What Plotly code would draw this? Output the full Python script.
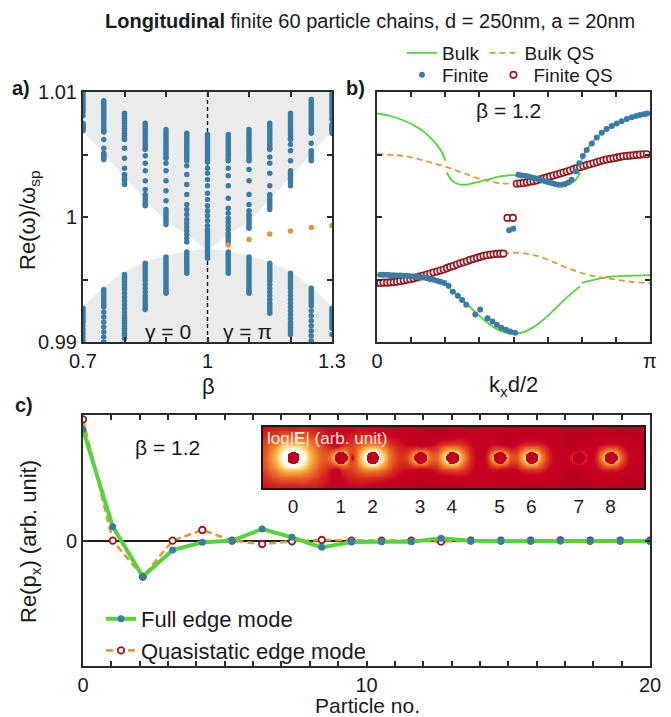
import numpy as np
import plotly.graph_objects as go

W, H = 671, 717
FONT = "Liberation Sans, Arial, Helvetica, sans-serif"
INK = "#1a1a1a"
AXIS = "#2b2b2b"
BLUE = "#3b7ca6"
ORANGE = "#e3973d"
GREEN = "#56d23e"
MAROON = "#8e1d27"
BAND_GREY = "#ebebeb"

# ---------------- a) finite-chain eigenfrequencies vs beta ----------------
# frequencies stored as offsets from omega_sp in units of 1e-4
beta_cols = [0.70, 0.75, 0.80, 0.85, 0.90, 0.95, 1.00, 1.05, 1.10, 1.15, 1.20, 1.25, 1.30]

b070_up = [101, 99, 97, 95, 93, 91, 89, 87, 86, 84, 81, 75, 74, 73, 72, 71, 70, 69]
b070_lo = [-73, -75, -77, -79, -81, -83, -84, -87, -90, -93, -96, -99]
b075_up = [93, 91, 89, 87, 85, 83, 81, 79, 77, 75, 73, 71, 69, 68, 62, 55, 51, 50, 49, 48, 47, 46]
b075_lo = [-58, -60, -62, -64, -66, -68, -70, -72, -76, -80, -84, -88, -92, -96, -100]
b080_up = [83, 81, 79, 77, 75, 73, 71, 69, 67, 65, 63, 62, 55, 47, 39, 34, 33, 31, 30, 29, 27, 26]
b080_lo = [-46, -48, -50, -52, -54, -56, -58, -61, -64, -67, -70, -73, -76, -79, -81, -83, -85,
           -87, -89, -91, -93, -95, -97]
b085_up = [75, 73, 71, 69, 67, 65, 63, 61, 59, 57, 55, 54, 49, 43, 37, 29, 22, 18, 16, 14, 12, 10, 9]
b085_lo = [-37, -39, -41, -43, -45, -47, -49, -51, -54, -57, -60, -63, -65, -67, -69, -71, -73, -74]
b090_up = [70, 68, 66, 64, 62, 60, 58, 56, 54, 52, 50, 48, 47, 43, 37, 29, 21, 13, 6, 4, 2, 0,
           -2, -4, -6]
b090_lo = [-32, -34, -36, -38, -40, -42, -44, -46, -48, -50, -52, -54, -56, -58, -60, -61]
b095_up = [67, 65, 63, 61, 59, 57, 55, 53, 51, 49, 47, 45, 41, 34, 26, 18, 10, 6, 2, -2, -5, -8,
           -11, -14, -17, -20]
b095_lo = [-28, -30, -32, -34, -36, -38, -40, -42, -44, -45]
b100_up = [66, 64, 62, 60, 58, 56, 54, 52, 50, 48, 46, 44, 39, 35, 30, 25, 19, 14, 9, 5, 1, -3,
           -7, -10, -12, -14, -16, -18, -20, -22, -24, -26, -28, -30, -32, -33]
b100_lo = []
b105_up = [66, 64, 62, 60, 58, 56, 54, 52, 50, 48, 46, 45, 39, 33, 25, 15, 7, 3, -1, -4, -7, -10,
           -13, -15, -17, -19, -21]
b105_lo = [-28, -30, -32, -34, -36, -38, -40, -42, -44, -45]
b110_up = [70, 68, 66, 64, 62, 60, 58, 56, 54, 52, 50, 48, 46, 45, 38, 29, 18, 10, 5, 2, 0, -2,
           -4, -6, -8, -9]
b110_lo = [-32, -34, -36, -38, -40, -42, -44, -46, -48, -50, -52, -54, -56, -58, -60, -61]
b115_up = [75, 73, 71, 69, 67, 65, 63, 61, 59, 57, 55, 54, 48, 43, 35, 25, 18, 16, 14, 12, 10, 8, 6]
b115_lo = [-37, -39, -41, -43, -45, -47, -49, -51, -54, -57, -60, -63, -66, -69, -71, -73, -75, -77]
b120_up = [83, 81, 79, 77, 75, 73, 71, 69, 67, 65, 63, 62, 58, 53, 45, 37, 35, 33, 31, 29, 27, 25]
b120_lo = [-45, -47, -49, -51, -53, -55, -57, -60, -63, -66, -69, -72, -75, -78, -81, -84, -86,
           -88, -90, -92, -94]
b125_up = [94, 92, 90, 88, 86, 84, 82, 80, 78, 76, 74, 72, 70, 68, 67, 59, 53, 51, 49, 47, 45]
b125_lo = [-57, -59, -61, -63, -65, -67, -69, -71, -75, -79, -83, -87, -91, -95, -99]
b130_up = [101, 99, 97, 95, 93, 91, 89, 87, 85, 83, 81, 79, 78, 74, 73, 72, 71, 70, 69, 67]
b130_lo = [-73, -75, -77, -79, -81, -83, -85, -87, -89, -94]

upper_modes = [b070_up, b075_up, b080_up, b085_up, b090_up, b095_up, b100_up,
               b105_up, b110_up, b115_up, b120_up, b125_up, b130_up]
lower_modes = [b070_lo, b075_lo, b080_lo, b085_lo, b090_lo, b095_lo, b100_lo,
               b105_lo, b110_lo, b115_lo, b120_lo, b125_lo, b130_lo]

# edge states of the gamma = pi chains
edge_beta = [1.05, 1.10, 1.15, 1.20, 1.25, 1.30]
edge_offset = [-22.4, -17.9, -13.6, -11.2, -8.3, -6.7]

# bulk band edges (shaded bands)
upper_band_edge = [69, 50.5, 32, 14, -3, -14, -25, -14, -3, 14, 32, 50.5, 69]
lower_band_edge = [-72, -56, -44, -36, -31, -27.5, -25.5, -27.5, -31, -36, -44, -56, -72]

beta_critical = 1.0
freq_range = [0.99, 1.01]


def freq(offsets):
    return [None if o is None else 1.0 + o * 1e-4 for o in offsets]


# ---------------- b) dispersion at beta = 1.2 (k in units of pi) ----------------
bulk_up_k = [0, 0.05, 0.10, 0.14, 0.17, 0.20, 0.22, 0.24, 0.25, None,
             0.256, 0.274, 0.293, 0.317, 0.354, 0.402, 0.451, 0.5, 0.549, 0.598, 0.646, 0.683,
             0.707, 0.726, 0.744, None,
             0.75, 0.76, 0.78, 0.80, 0.83, 0.86, 0.90, 0.95, 1.0]
bulk_up_f = [82.8, 80.8, 77.0, 72.7, 68.5, 62.5, 57.5, 51.0, 45.0, None,
             35.6, 29.3, 26.6, 25.8, 27.2, 29.8, 32.5, 33.5, 32.5, 29.8, 27.2, 25.8,
             26.6, 29.3, 35.6, None,
             45.0, 51.0, 57.5, 62.5, 68.5, 72.7, 77.0, 80.8, 82.8]
bulk_lo_k = [0, 0.073, 0.146, 0.195, 0.25, None,
             0.256, 0.28, 0.317, 0.354, 0.39, 0.427, 0.463, 0.5, 0.537, 0.573, 0.61, 0.646,
             0.683, 0.72, 0.744, None,
             0.75, 0.805, 0.854, 0.927, 1.0]
bulk_lo_f = [-46.5, -47.0, -47.8, -49.7, -52.8, None,
             -55.5, -59.7, -66.9, -74.8, -82.0, -88.1, -92.1, -93.6, -92.1, -88.1, -82.0, -74.8,
             -66.9, -59.7, -55.5, None,
             -52.8, -49.7, -47.8, -47.0, -46.5]

qs_k = [0, 0.073, 0.134, 0.195, 0.256, 0.317, 0.378, 0.439, 0.5, 0.561, 0.622, 0.683, 0.744,
        0.805, 0.866, 0.927, 1.0]
qs_up_f = [50.2, 49.4, 47.3, 43.8, 39.9, 35.1, 30.3, 27.4, 26.6, 27.4, 30.3, 35.1, 39.9, 43.8,
           47.3, 49.4, 50.2]
qs_lo_f = [-52.8, -51.8, -49.1, -45.2, -40.9, -37.0, -32.5, -29.8, -28.5, -29.8, -33.8, -39.5,
           -44.4, -47.8, -49.7, -51.8, -52.8]

fin_lo_k = [0.012, 0.024, 0.037, 0.049, 0.061, 0.073, 0.085, 0.098, 0.110, 0.122, 0.134, 0.146,
            0.159, 0.171, 0.183, 0.195, 0.207, 0.220, 0.232, 0.246, 0.262, 0.278, 0.296, 0.312,
            0.327, 0.360, 0.378, 0.405, 0.423, 0.439, 0.455, 0.472, 0.488, 0.506]
fin_lo_f = [-46.2, -46.2, -46.2, -46.5, -46.5, -46.8, -46.8, -47.0, -47.0, -47.3, -47.6, -47.8,
            -48.1, -48.3, -48.9, -49.7, -50.2, -51.0, -51.8, -52.8, -55.0, -59.7, -62.9, -66.4,
            -70.1, -78.0, -74.0, -80.9, -83.6, -86.2, -88.6, -90.2, -91.5, -92.6]
fin_up_k = [0.518, 0.530, 0.543, 0.555, 0.567, 0.579, 0.591, 0.604, 0.616, 0.628, 0.640, 0.652,
            0.665, 0.677, 0.689, 0.701, 0.713, 0.729, 0.741, 0.754, 0.768, 0.787, 0.805, 0.823,
            0.841, 0.860, 0.878, 0.896, 0.915, 0.933, 0.949, 0.963, 0.978, 0.990]
fin_up_f = [33.8, 33.2, 33.0, 32.5, 31.7, 31.1, 30.3, 29.5, 28.7, 27.9, 27.2, 26.4, 25.8, 25.8,
            26.4, 27.7, 29.8, 36.4, 43.0, 48.9, 53.6, 58.9, 63.7, 67.4, 70.3, 72.7, 74.8, 76.7,
            78.5, 79.9, 80.9, 81.7, 82.3, 82.8]
fin_edge_k = [0.484, 0.499]
fin_edge_f = [-10.5, -9.4]

finqs_lo_k = [0, 0.012, 0.024, 0.037, 0.049, 0.061, 0.073, 0.085, 0.098, 0.110, 0.122, 0.134,
              0.146, 0.159, 0.171, 0.183, 0.195, 0.207, 0.220, 0.232, 0.244, 0.256, 0.268, 0.280,
              0.293, 0.305, 0.317, 0.329, 0.341, 0.354, 0.366, 0.378, 0.390, 0.402, 0.415, 0.427,
              0.439, 0.451, 0.463]
finqs_lo_f = [-52.8, -52.8, -52.5, -52.5, -52.3, -52.1, -51.8, -51.3, -50.7, -50.2, -49.7, -49.1,
              -48.3, -47.5, -46.8, -46.0, -45.2, -44.4, -43.6, -42.8, -42.0, -40.9, -39.9, -39.1,
              -38.0, -37.0, -36.2, -35.4, -34.3, -33.5, -32.7, -31.9, -31.1, -30.6, -30.1, -29.8,
              -29.5, -29.3, -29.3]
finqs_up_k = [0.512, 0.524, 0.537, 0.549, 0.561, 0.573, 0.585, 0.598, 0.610, 0.622, 0.634, 0.646,
              0.659, 0.671, 0.683, 0.695, 0.707, 0.720, 0.732, 0.744, 0.756, 0.768, 0.780, 0.793,
              0.805, 0.817, 0.829, 0.841, 0.854, 0.866, 0.878, 0.890, 0.902, 0.915, 0.927, 0.939,
              0.951, 0.963, 0.976, 0.988]
finqs_up_f = [26.6, 26.9, 27.2, 27.7, 28.2, 28.7, 29.3, 30.1, 30.9, 31.7, 32.5, 33.2, 34.0, 34.8,
              35.6, 36.4, 37.2, 38.3, 39.1, 39.9, 40.7, 41.5, 42.2, 43.0, 43.8, 44.6, 45.4, 46.0,
              46.5, 47.0, 47.5, 48.1, 48.6, 48.9, 49.1, 49.4, 49.7, 49.9, 50.2, 50.2]
finqs_edge_k = [0.478, 0.498]
finqs_edge_f = [-0.7, -0.7]


def kd(fracs):
    return [None if f is None else f * np.pi for f in fracs]


# ---------------- c) edge-mode dipole moments ----------------
particle_no = [0, 1.05, 2.11, 3.16, 4.21, 5.26, 6.32, 7.37, 8.42, 9.47, 10.53, 11.58, 12.63,
               13.68, 14.74, 15.79, 16.84, 17.89, 18.95, 20.0]
full_px = [1.0, 0.126, -0.323, -0.084, -0.015, 0.0, 0.105, 0.03, -0.06, -0.012, -0.009, -0.009,
           0.021, 0.0, -0.003, -0.003, 0.0, -0.006, -0.003, -0.003]
qs_px = [1.09, 0.0, -0.323, 0.0, 0.096, 0.0, -0.03, -0.006, 0.006, 0.0, 0.0, 0.0, -0.009, 0.0,
         0.0, 0.0, 0.003, 0.0, 0.0, 0.0]

# inset: near field of the first nine particles (positions in nm)
inset_pos = [0, 150, 250, 400, 500, 650, 750, 900, 1000]
inset_labels = ["0", "1", "2", "3", "4", "5", "6", "7", "8"]
inset_amp = [1.0, 0.06, -0.38, -0.05, -0.16, 0.05, 0.11, 0.008, -0.07]
particle_radius = 20.0
k_light = np.pi / 500.0

# ---------------- figure ----------------
fig = go.Figure()

# shaded bulk bands
ceil = [freq_range[1] + 0.002] * len(beta_cols)
floor = [freq_range[0] - 0.002] * len(beta_cols)
fig.add_trace(go.Scatter(x=beta_cols, y=ceil, mode="lines", line=dict(width=0),
                         showlegend=False, hoverinfo="skip", xaxis="x", yaxis="y"))
fig.add_trace(go.Scatter(x=beta_cols, y=freq(upper_band_edge), mode="lines",
                         line=dict(width=0, shape="spline"), fill="tonexty", fillcolor=BAND_GREY,
                         showlegend=False, hoverinfo="skip", xaxis="x", yaxis="y"))
fig.add_trace(go.Scatter(x=beta_cols, y=floor, mode="lines", line=dict(width=0),
                         showlegend=False, hoverinfo="skip", xaxis="x", yaxis="y"))
fig.add_trace(go.Scatter(x=beta_cols, y=freq(lower_band_edge), mode="lines",
                         line=dict(width=0, shape="spline"), fill="tonexty", fillcolor=BAND_GREY,
                         showlegend=False, hoverinfo="skip", xaxis="x", yaxis="y"))
fig.add_trace(go.Scatter(x=[beta_critical, beta_critical], y=freq_range, mode="lines",
                         line=dict(color=INK, width=1.4, dash="4px,3px"),
                         showlegend=False, hoverinfo="skip", xaxis="x", yaxis="y"))

col_x, col_y = [], []
for b, up, lo in zip(beta_cols, upper_modes, lower_modes):
    vals = up + lo
    col_x += [b] * len(vals)
    col_y += freq(vals)
fig.add_trace(go.Scatter(x=col_x, y=col_y, mode="markers",
                         marker=dict(color=BLUE, size=5.5, line=dict(width=0)),
                         showlegend=False, xaxis="x", yaxis="y"))
fig.add_trace(go.Scatter(x=edge_beta, y=freq(edge_offset), mode="markers",
                         marker=dict(color=ORANGE, size=5.5, line=dict(width=0)),
                         showlegend=False, xaxis="x", yaxis="y"))

# panel b
fig.add_trace(go.Scatter(x=kd(bulk_up_k), y=freq(bulk_up_f), mode="lines", name="Bulk",
                         line=dict(color=GREEN, width=1.8, shape="spline"), connectgaps=False,
                         legend="legend", xaxis="x2", yaxis="y2"))
fig.add_trace(go.Scatter(x=kd(bulk_lo_k), y=freq(bulk_lo_f), mode="lines", showlegend=False,
                         line=dict(color=GREEN, width=1.8, shape="spline"), connectgaps=False,
                         xaxis="x2", yaxis="y2"))
fig.add_trace(go.Scatter(x=kd(qs_k), y=freq(qs_up_f), mode="lines", name="Bulk QS",
                         line=dict(color=ORANGE, width=1.8, dash="6px,4px", shape="spline"),
                         legend="legend", xaxis="x2", yaxis="y2"))
fig.add_trace(go.Scatter(x=kd(qs_k), y=freq(qs_lo_f), mode="lines", showlegend=False,
                         line=dict(color=ORANGE, width=1.8, dash="6px,4px", shape="spline"),
                         xaxis="x2", yaxis="y2"))
fig.add_trace(go.Scatter(x=kd(finqs_lo_k + finqs_up_k + finqs_edge_k),
                         y=freq(finqs_lo_f + finqs_up_f + finqs_edge_f),
                         mode="markers", name="Finite QS", legend="legend2", legendrank=2,
                         marker=dict(color="#fbf3ee", size=6.5, line=dict(color=MAROON, width=1.6)),
                         xaxis="x2", yaxis="y2"))
fig.add_trace(go.Scatter(x=kd(fin_lo_k + fin_up_k + fin_edge_k),
                         y=freq(fin_lo_f + fin_up_f + fin_edge_f),
                         mode="markers", name="Finite", legend="legend2", legendrank=1,
                         marker=dict(color=BLUE, size=6, line=dict(width=0)),
                         xaxis="x2", yaxis="y2"))

# panel c
fig.add_trace(go.Scatter(x=particle_no, y=qs_px, mode="lines+markers",
                         name="Quasistatic edge mode", legend="legend3", legendrank=2,
                         line=dict(color=ORANGE, width=2.6, dash="7px,4px"),
                         marker=dict(color="#fbf3ee", size=6.5, line=dict(color=MAROON, width=1.8)),
                         xaxis="x3", yaxis="y3"))
fig.add_trace(go.Scatter(x=particle_no, y=full_px, mode="lines+markers",
                         name="Full edge mode", legend="legend3", legendrank=1,
                         line=dict(color=GREEN, width=4),
                         marker=dict(color=BLUE, size=7, line=dict(width=0)),
                         xaxis="x3", yaxis="y3"))

# inset field map: dipole fields of the chain particles
gx = np.linspace(-94.5, 1105, 420)
gy = np.linspace(-96, 96, 70)
X, Y = np.meshgrid(gx, gy)
Ex = np.zeros(X.shape, complex)
Ey = np.zeros(X.shape, complex)
inside = np.zeros(X.shape, bool)
for x0, p in zip(inset_pos, inset_amp):
    dx = X - x0
    r = np.hypot(dx, Y)
    nx, ny = dx / r, Y / r
    phase = np.exp(1j * k_light * r)
    near = 1.0 / r**3 - 1j * k_light / r**2
    Ex += p * phase * (k_light**2 * (1 - nx**2) / r + (3 * nx**2 - 1) * near)
    Ey += p * phase * (-k_light**2 * nx * ny / r + 3 * nx * ny * near)
    inside |= r < particle_radius
logE = np.log10(np.sqrt(np.abs(Ex)**2 + np.abs(Ey)**2))
zmax = np.log10(2.0 / particle_radius**3) - 0.7
zmin = zmax - 2.7
logE[inside] = zmin - 1
fig.add_trace(go.Heatmap(x=gx, y=gy, z=logE, zmin=zmin, zmax=zmax, zsmooth="best",
                         showscale=False, hoverinfo="skip",
                         colorscale=[[0.0, "#bd0021"], [0.3, "#c80023"], [0.45, "#d9301f"],
                                     [0.6, "#ec6c28"], [0.74, "#f8a842"], [0.87, "#fee08a"],
                                     [1.0, "#fffdf2"]],
                         xaxis="x4", yaxis="y4"))

# ---------------- layout ----------------
def px_x(v):
    return v / W


def px_y(v):
    return 1 - v / H


TICK = 20
axis_common = dict(showline=True, linewidth=2, linecolor=AXIS, mirror="allticks",
                   ticks="inside", ticklen=5, tickwidth=1.5, tickcolor=AXIS, automargin=False,
                   showgrid=False, zeroline=False, tickfont=dict(size=TICK, color=INK))

dom_a_x = [px_x(83), px_x(332)]
dom_b_x = [px_x(377), px_x(650)]
dom_ab_y = [px_y(342), px_y(92)]
dom_c_x = [px_x(83), px_x(650)]
dom_c_y = [px_y(666), px_y(415)]

freq_ticks = [0.99, 0.995, 1.0, 1.005, 1.01]
c_ticks = list(range(0, 21))

fig.update_layout(
    width=W, height=H, margin=dict(l=0, r=0, t=0, b=0, autoexpand=False),
    paper_bgcolor="white", plot_bgcolor="rgba(0,0,0,0)",
    font=dict(family=FONT, color=INK),
    xaxis=dict(axis_common, domain=dom_a_x, anchor="y", range=[0.7, 1.3],
               tickvals=[0.7, 0.8, 0.9, 1.0, 1.1, 1.2, 1.3],
               ticktext=["0.7", "", "", "1", "", "", "1.3"]),
    yaxis=dict(axis_common, domain=dom_ab_y, anchor="x", range=freq_range,
               tickvals=freq_ticks, ticktext=["0.99", "", "1", "", "1.01"]),
    xaxis2=dict(axis_common, domain=dom_b_x, anchor="y2", range=[0, np.pi],
                tickvals=[i * np.pi / 8 for i in range(9)],
                ticktext=["0", "", "", "", "", "", "", "", "π"]),
    yaxis2=dict(axis_common, domain=dom_ab_y, anchor="x2", range=freq_range,
                tickvals=freq_ticks, showticklabels=False),
    xaxis3=dict(axis_common, domain=dom_c_x, anchor="y3", range=[0, 20],
                tickvals=c_ticks,
                ticktext=["0" if t == 0 else "10" if t == 10 else "20" if t == 20 else ""
                          for t in c_ticks]),
    yaxis3=dict(axis_common, domain=dom_c_y, anchor="x3", range=[-1.126, 1.129],
                tickvals=[0], ticktext=["0"], zeroline=True, zerolinecolor=INK,
                zerolinewidth=1.5),
    xaxis4=dict(domain=[px_x(263), px_x(644)], anchor="y4", range=[-94.5, 1105],
                showline=True, linewidth=1.5, linecolor=INK, mirror=True, ticks="",
                automargin=False, showgrid=False, zeroline=False, tickvals=inset_pos,
                ticktext=inset_labels, tickfont=dict(size=19, color=INK)),
    yaxis4=dict(domain=[px_y(488), px_y(427)], anchor="x4", range=[-96, 96],
                showline=True, linewidth=1.5, linecolor=INK, mirror=True, ticks="",
                automargin=False, showgrid=False, zeroline=False, showticklabels=False),
    legend=dict(orientation="h", x=px_x(402), y=px_y(53), xanchor="left", yanchor="middle",
                font=dict(size=19), bgcolor="rgba(0,0,0,0)", itemwidth=30,
                traceorder="normal"),
    legend2=dict(orientation="h", x=px_x(402), y=px_y(75), xanchor="left", yanchor="middle",
                 font=dict(size=19), bgcolor="rgba(0,0,0,0)", itemwidth=30,
                 traceorder="normal"),
    legend3=dict(orientation="v", x=px_x(101), y=px_y(598), xanchor="left", yanchor="top",
                 font=dict(size=22), bgcolor="rgba(0,0,0,0)", itemwidth=30,
                 traceorder="normal"),
)


def label(text, x, y, size=21, **kw):
    fig.add_annotation(text=text, x=px_x(x), y=px_y(y), xref="paper", yref="paper",
                       showarrow=False, font=dict(size=size, color=kw.pop("color", INK)),
                       xanchor=kw.pop("xanchor", "center"), yanchor=kw.pop("yanchor", "middle"),
                       **kw)


label("<b>Longitudinal</b> finite 60 particle chains, d = 250nm, a = 20nm", 370, 21, size=20)
label("<b>a)</b>", 21, 88, size=20)
label("<b>b)</b>", 355, 88, size=20)
label("<b>c)</b>", 24, 405, size=20)
label("Re(ω)/ω<sub>sp</sub>", 29, 220, size=22, textangle=-90)
label("β", 208, 386, size=22)
label("k<sub>x</sub>d/2", 513, 386, size=22)
label("β = 1.2", 508, 110, size=21)
label("γ = 0", 168, 331, size=21)
label("γ = π", 247, 331, size=21)
label("Re(p<sub>x</sub>) (arb. unit)", 30, 542, size=22, textangle=-90)
label("Particle no.", 367, 705, size=21)
label("β = 1.2", 167, 447, size=21)
label("log|<b>E</b>| (arb. unit)", 265, 438, size=17, color="#fde6de", xanchor="left")

fig.write_html("out.html")
